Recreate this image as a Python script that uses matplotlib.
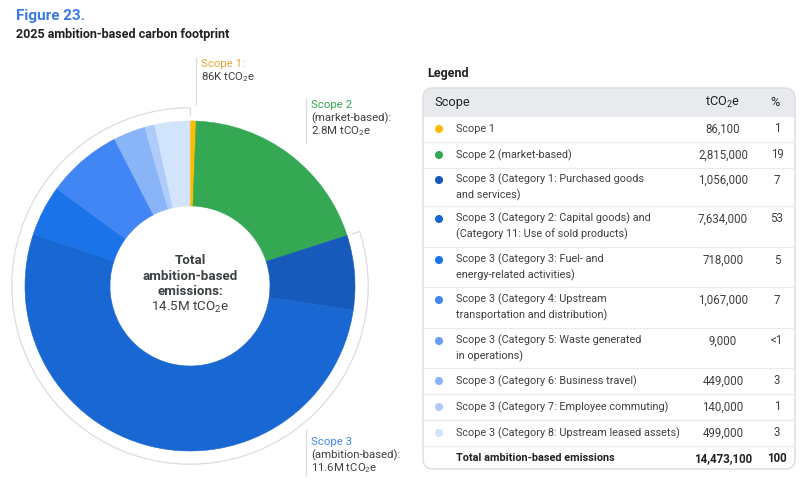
import numpy as np
import matplotlib
matplotlib.use("Agg")
import matplotlib.pyplot as plt
from matplotlib.patches import Arc, FancyBboxPatch, Rectangle

plt.rcParams['font.family'] = ['Roboto', 'DejaVu Sans']
plt.rcParams['mathtext.fontset'] = 'custom'
plt.rcParams['mathtext.rm'] = 'Roboto'
plt.rcParams['mathtext.it'] = 'Roboto'
plt.rcParams['mathtext.bf'] = 'Roboto:bold'

# data
scopes = ["Scope 1",
          "Scope 2 (market-based)",
          "Scope 3 (Category 1: Purchased goods\nand services)",
          "Scope 3 (Category 2: Capital goods) and\n(Category 11: Use of sold products)",
          "Scope 3 (Category 3: Fuel- and\nenergy-related activities)",
          "Scope 3 (Category 4: Upstream\ntransportation and distribution)",
          "Scope 3 (Category 5: Waste generated\nin operations)",
          "Scope 3 (Category 6: Business travel)",
          "Scope 3 (Category 7: Employee commuting)",
          "Scope 3 (Category 8: Upstream leased assets)"]
emissions = [86100, 2815000, 1056000, 7634000, 718000, 1067000, 9000, 449000, 140000, 499000]
pct_labels = ["1", "19", "7", "53", "5", "7", "<1", "3", "1", "3"]
colors = ["#FBBC04", "#34A853", "#185ABC", "#1967D2", "#1A73E8", "#4285F4",
          "#669DF6", "#8AB4F8", "#AECBFA", "#D2E3FC"]
total_label = "Total ambition-based emissions"
total_value = "14,473,100"
total_pct = "100"

dark = "#3c4043"
grid = "#dadce0"

fig = plt.figure(figsize=(8, 4.91), dpi=100)

# donut, centre (190, 286) px, radius 165 px
cx, cy, R = 190, 286, 165
half = 1.2 * R
pie_ax = fig.add_axes([(cx - half) / 800, (491 - cy - half) / 491, 2 * half / 800, 2 * half / 491])
wedges, _ = pie_ax.pie(emissions, colors=colors, startangle=90, counterclock=False,
                       radius=1, wedgeprops=dict(width=0.515, linewidth=0.4))
for w, c in zip(wedges, colors):
    w.set_edgecolor(c)
pie_ax.set_xlim(-1.2, 1.2)
pie_ax.set_ylim(-1.2, 1.2)
pie_ax.set_aspect('equal')
pie_ax.axis('off')

# scope 3 bracket
frac = np.cumsum(emissions) / sum(emissions)
a_start = 90 - 360 * frac[1]
rb = 1.08
pie_ax.add_patch(Arc((0, 0), 2 * rb, 2 * rb, theta1=90, theta2=a_start + 360, color=grid, lw=0.9))
for a in (90, a_start):
    t = np.deg2rad(a)
    pie_ax.plot([rb * np.cos(t), (rb - 0.045) * np.cos(t)], [rb * np.sin(t), (rb - 0.045) * np.sin(t)],
                color=grid, lw=0.9)

# overlay in pixel coordinates
ov = fig.add_axes([0, 0, 1, 1])
ov.set_xlim(0, 800)
ov.set_ylim(491, 0)
ov.axis('off')

ov.text(16, 16, "Figure 23.", fontsize=11, fontweight='bold', color="#3b7ae6", va='center')
ov.text(16, 34, "2025 ambition-based carbon footprint", fontsize=9, fontweight='bold', color="#202124", va='center')

# centre text
cfs = 9.6
ov.text(cx, 261, "Total", ha='center', va='center', fontsize=cfs, fontweight='bold', color=dark)
ov.text(cx, 276, "ambition-based", ha='center', va='center', fontsize=cfs, fontweight='bold', color=dark)
ov.text(cx, 291.5, "emissions:", ha='center', va='center', fontsize=cfs, fontweight='bold', color=dark)
ov.text(cx, 307, "14.5M tCO$_2$e", ha='center', va='center', fontsize=cfs, color=dark)

# callouts
lab_fs = 8.2
ov.plot([195.5, 195.5], [58, 104], color=grid, lw=0.9)
ov.text(201, 64, "Scope 1:", fontsize=lab_fs, color="#E8A33A", va='center')
ov.text(201, 77, "86K tCO$_2$e", fontsize=lab_fs, color=dark, va='center')

ov.plot([305.5, 305.5], [99, 143], color=grid, lw=0.9)
ov.text(311, 105, "Scope 2", fontsize=lab_fs, color="#34A853", va='center')
ov.text(311, 118, "(market-based):", fontsize=lab_fs, color=dark, va='center')
ov.text(311, 131, "2.8M tCO$_2$e", fontsize=lab_fs, color=dark, va='center')

ov.plot([305.5, 305.5], [430, 476], color=grid, lw=0.9)
ov.text(311, 442, "Scope 3", fontsize=lab_fs, color="#4285F4", va='center')
ov.text(311, 455, "(ambition-based):", fontsize=lab_fs, color=dark, va='center')
ov.text(311, 468, "11.6M tCO$_2$e", fontsize=lab_fs, color=dark, va='center')

# legend table
ov.text(427, 73, "Legend", fontsize=9, fontweight='bold', color="#202124", va='center')
bx0, bx1, by0, by1 = 423, 795, 88, 469
ov.add_patch(FancyBboxPatch((bx0, by0), bx1 - bx0, by1 - by0, boxstyle="round,pad=0,rounding_size=10",
                            facecolor='white', edgecolor='none'))
ov.add_patch(FancyBboxPatch((bx0, by0), bx1 - bx0, 40, boxstyle="round,pad=0,rounding_size=10",
                            facecolor="#e8eaed", edgecolor='none'))
ov.add_patch(Rectangle((bx0 + 0.5, 117), bx1 - bx0 - 1, 20, facecolor='white', edgecolor='none'))
ov.add_patch(FancyBboxPatch((bx0, by0), bx1 - bx0, by1 - by0, boxstyle="round,pad=0,rounding_size=10",
                            facecolor='none', edgecolor=grid, lw=1.0))

tfs = 7.8
vfs = 8.3
ov.text(434, 102.5, "Scope", fontsize=9.2, color="#202124", va='center')
ov.text(723, 102.5, "tCO$_2$e", fontsize=9.2, color="#202124", va='center', ha='center')
ov.text(775, 102.5, "%", fontsize=9.2, color="#202124", va='center', ha='center')

row_y = [129, 155, 187, 226, 267, 307, 348, 381, 407, 433]
seps = [142, 168, 206, 247, 287, 328, 368, 394, 420, 446]
for s in seps:
    ov.plot([bx0, bx1], [s, s], color="#e8eaed", lw=0.9)
for i, (name, val, p, c) in enumerate(zip(scopes, emissions, pct_labels, colors)):
    nl = name.count("\n")
    ytop = row_y[i] - 7 * nl
    ov.scatter([439], [ytop], s=34, color=c, edgecolors='none', zorder=3)
    ov.text(456, row_y[i], name, fontsize=tfs, color=dark, va='center', linespacing=1.45)
    ov.text(723, ytop, f"{val:,}", fontsize=vfs, color=dark, va='center', ha='center')
    ov.text(777, ytop, p, fontsize=vfs, color=dark, va='center', ha='center')

ov.text(456, 458, total_label, fontsize=tfs, fontweight='bold', color="#202124", va='center')
ov.text(723, 458.5, total_value, fontsize=vfs, fontweight='bold', color="#202124", va='center', ha='center')
ov.text(777, 458.5, total_pct, fontsize=vfs, fontweight='bold', color="#202124", va='center', ha='center')

fig.savefig("out.png", dpi=100)
